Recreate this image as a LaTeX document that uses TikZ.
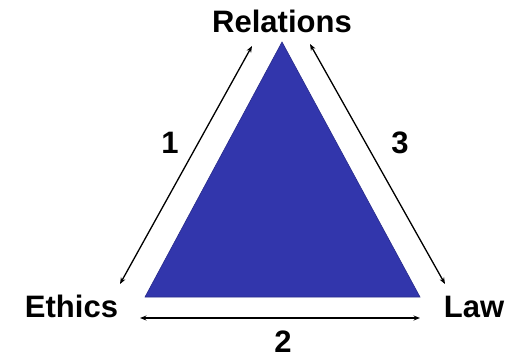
\documentclass[tikz,border=0pt]{standalone}
\usepackage{fontspec}
\setmainfont{Liberation Sans}
\usetikzlibrary{arrows.meta}
\definecolor{triblue}{RGB}{50,54,172}
\tikzset{
  lbl/.style={font=\fontsize{31bp}{36bp}\selectfont\bfseries, inner sep=0pt, anchor=base},
  num/.style={font=\fontsize{31bp}{36bp}\selectfont\bfseries, inner sep=0pt, anchor=base},
  rel/.style={draw=black, line width=1.3bp, {Stealth[length=6.5bp,width=5bp]}-{Stealth[length=6.5bp,width=5bp]}},
}
\begin{document}
\begin{tikzpicture}[x=1bp,y=-1bp]
\useasboundingbox (0,0) rectangle (516,357);
\coordinate (apex) at (282,42);
\coordinate (bl) at (145,297);
\coordinate (br) at (420,297);
\fill[triblue, draw=triblue!80!black, line width=0.6bp] (apex) -- (bl) -- (br) -- cycle;
\node[lbl] (rel) at (282,32) {Relations};
\node[lbl] (eth) at (71.5,317) {Ethics};
\node[lbl] (law) at (474,317) {Law};
\coordinate (a1s) at (120,284);
\coordinate (a1e) at (252,46);
\coordinate (a3s) at (310,44);
\coordinate (a3e) at (445,284);
\coordinate (a2s) at (140,318);
\coordinate (a2e) at (420,318);
\draw[rel] (a1s) -- (a1e);
\draw[rel] (a3s) -- (a3e);
\draw[rel] (a2s) -- (a2e);
\node[num] (n1) at (170,153) {1};
\node[num] (n3) at (400,153) {3};
\node[num] (n2) at (283,352) {2};
\end{tikzpicture}
\end{document}
